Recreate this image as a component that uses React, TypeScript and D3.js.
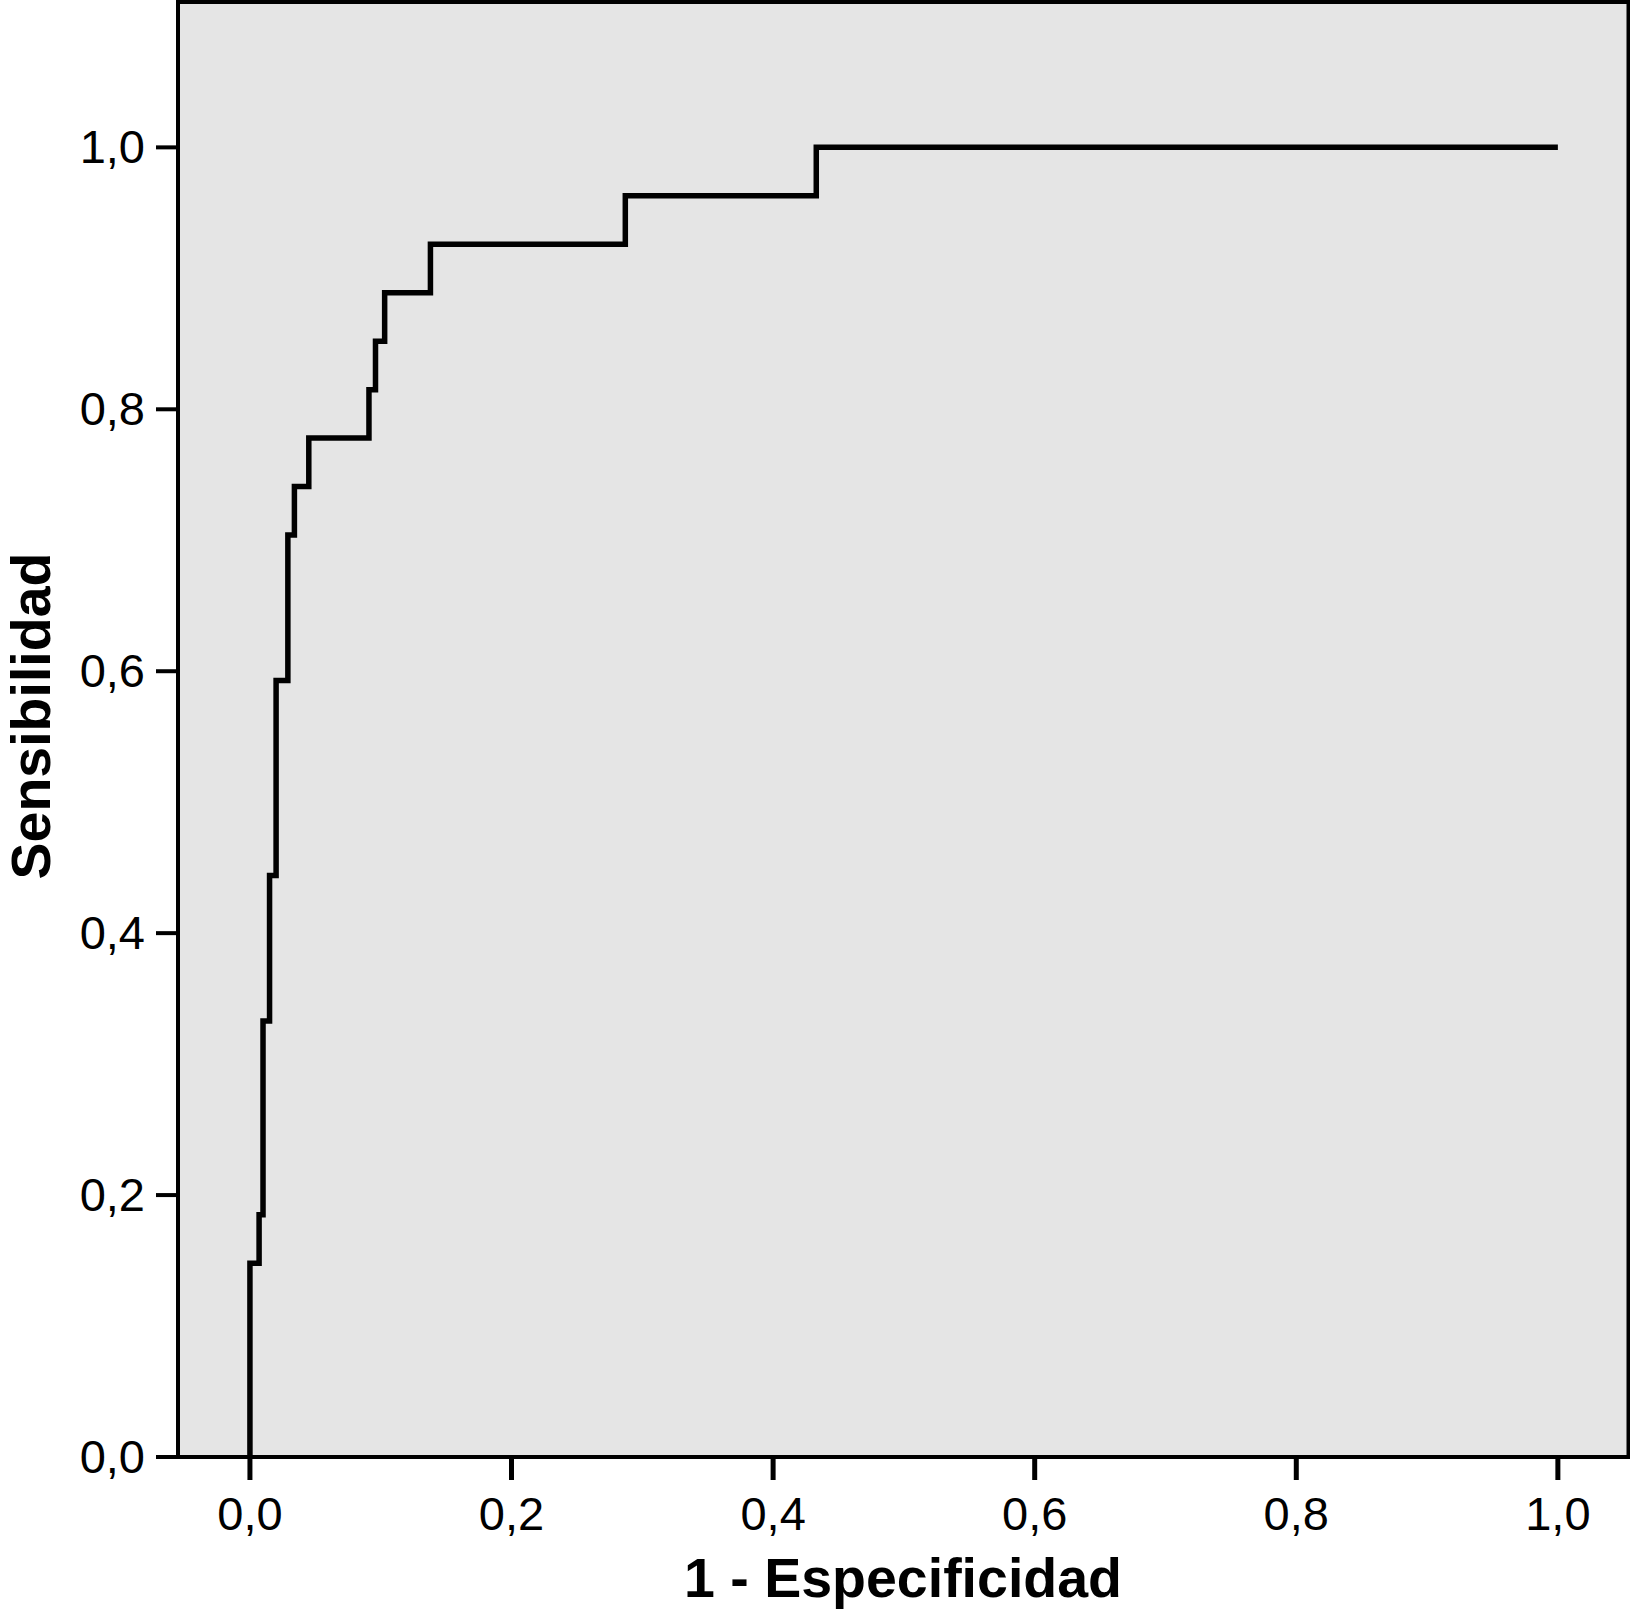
import React from "react";
import * as d3 from "d3";

// ROC curve corner points (top of each vertical step)
const fpr = [0, 0, 0.007, 0.010, 0.015, 0.020, 0.029, 0.034, 0.045, 0.091, 0.096, 0.103, 0.138, 0.287, 0.433, 1.0];
const tpr = [0, 0.148, 0.185, 0.333, 0.444, 0.593, 0.704, 0.741, 0.778, 0.815, 0.852, 0.889, 0.926, 0.963, 1.0, 1.0];

const xTicks = [0, 0.2, 0.4, 0.6, 0.8, 1.0];
const yTicks = [0, 0.2, 0.4, 0.6, 0.8, 1.0];
const xTitle = "1 - Especificidad";
const yTitle = "Sensibilidad";

const W = 1630;
const H = 1620;
const frame = { left: 178, right: 1628.5, top: 2, bottom: 1457 };

export default function App() {
  const x = d3.scaleLinear().domain([-0.055, 1.054]).range([frame.left, frame.right]);
  const y = d3.scaleLinear().domain([0, 1.111]).range([frame.bottom, frame.top]);
  const fmt = (v: number) => v.toFixed(1).replace(".", ",");

  const pts: [number, number][] = fpr.map((f, i) => [f, tpr[i]]);
  const line = d3
    .line<[number, number]>()
    .x((d) => x(d[0]))
    .y((d) => y(d[1]))
    .curve(d3.curveStepAfter);

  const font = "'Liberation Sans', Arial, Helvetica, sans-serif";

  return (
    <div style={{ position: "absolute", left: 0, top: 0 }}>
      <svg width={W} height={H} style={{ display: "block", background: "#ffffff" }}>
        <rect
          x={frame.left}
          y={frame.top}
          width={frame.right - frame.left}
          height={frame.bottom - frame.top}
          fill="#e5e5e5"
          stroke="#000"
          strokeWidth={4}
        />
        {yTicks.map((t) => (
          <g key={"y" + t}>
            <line x1={156} x2={frame.left} y1={y(t)} y2={y(t)} stroke="#000" strokeWidth={4} />
            <text
              x={145}
              y={y(t) + 16}
              textAnchor="end"
              fontFamily={font}
              fontSize={47}
              fill="#000"
            >
              {fmt(t)}
            </text>
          </g>
        ))}
        {xTicks.map((t) => (
          <g key={"x" + t}>
            <line x1={x(t)} x2={x(t)} y1={frame.bottom} y2={1480} stroke="#000" strokeWidth={5} />
            <text
              x={x(t)}
              y={1530}
              textAnchor="middle"
              fontFamily={font}
              fontSize={47}
              fill="#000"
            >
              {fmt(t)}
            </text>
          </g>
        ))}
        <path
          d={line(pts) || ""}
          fill="none"
          stroke="#000"
          strokeWidth={5.5}
          strokeLinejoin="miter"
          strokeLinecap="butt"
        />
        <text
          x={903}
          y={1597}
          textAnchor="middle"
          fontFamily={font}
          fontWeight="bold"
          fontSize={55.5}
          fill="#000"
        >
          {xTitle}
        </text>
        <text
          transform={`translate(50, 716) rotate(-90)`}
          textAnchor="middle"
          fontFamily={font}
          fontWeight="bold"
          fontSize={55.5}
          fill="#000"
        >
          {yTitle}
        </text>
      </svg>
    </div>
  );
}
